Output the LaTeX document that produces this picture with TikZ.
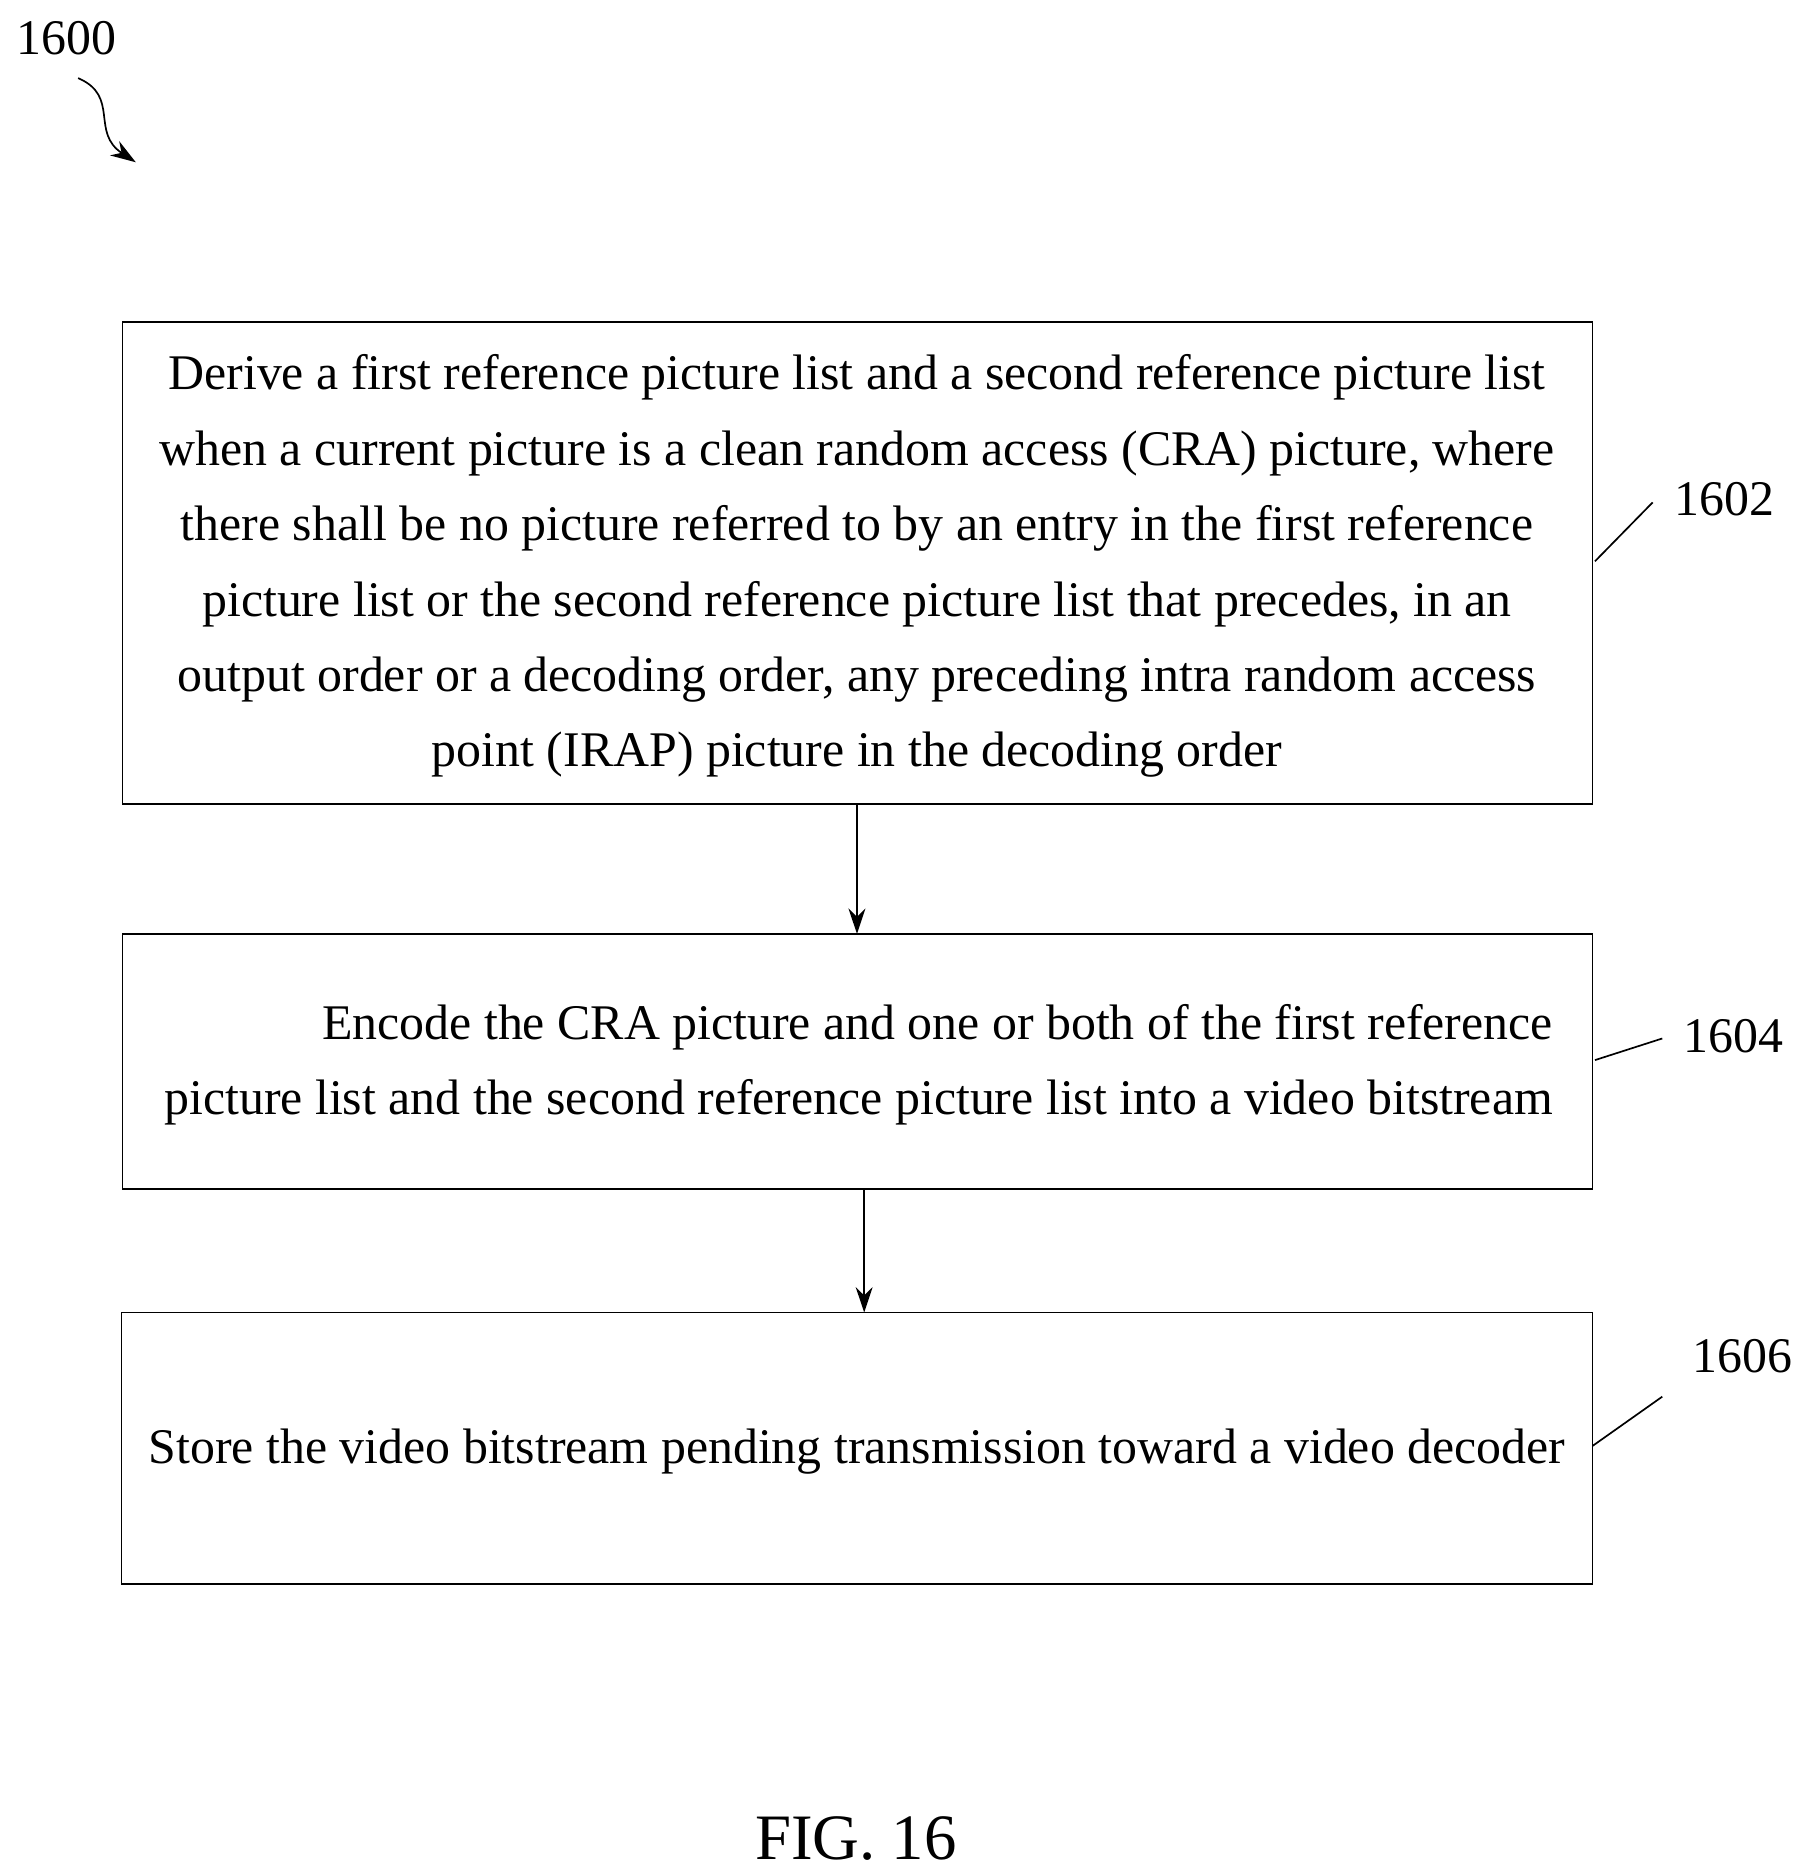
\documentclass[tikz,border=0pt]{standalone}
\usepackage{fontspec}
\setmainfont{Liberation Serif}
\usetikzlibrary{arrows.meta}
\begin{document}
\begin{tikzpicture}[x=0.03cm,y=-0.03cm,
  box/.style={draw,line width=1.2pt,inner sep=0pt},
  txt/.style={font=\fontsize{35.4}{53.6}\selectfont},
  arr/.style={-{Stealth[length=18pt,width=12pt]},line width=1.2pt},
  lead/.style={line width=1.2pt}]
\useasboundingbox (0,0) rectangle (1500,1560);
\node[box,minimum width=1223*0.03cm,minimum height=401*0.03cm] (b1) at (713.5,468.5) {};
\node[txt,align=center] (t1) at (713,471) {Derive a first reference picture list and a second reference picture list\\when a current picture is a clean random access (CRA) picture, where\\there shall be no picture referred to by an entry in the first reference\\picture list or the second reference picture list that precedes, in an\\output order or a decoding order, any preceding intra random access\\point (IRAP) picture in the decoding order};
\node[box,minimum width=1223*0.03cm,minimum height=212*0.03cm] (b2) at (713.5,883) {};
\node[txt,align=right,anchor=east] (t2) at (1296,886) {Encode the CRA picture and one or both of the first reference\\picture list and the second reference picture list into a video bitstream};
\node[box,minimum width=1224*0.03cm,minimum height=226*0.03cm] (b3) at (713,1205) {};
\node[txt] (t3) at (713,1208) {Store the video bitstream pending transmission toward a video decoder};
\draw[arr] (713,669) -- (713,777);
\draw[arr] (719,989) -- (719,1092);
\node[txt] (l2) at (1435,415) {1602};
\node[txt] (l4) at (1442,862) {1604};
\node[txt] (l6) at (1450,1128) {1606};
\coordinate (c2a) at (1327,467); \coordinate (c2b) at (1375,418);
\coordinate (c4a) at (1327,882); \coordinate (c4b) at (1383,864);
\coordinate (c6a) at (1325,1203); \coordinate (c6b) at (1383,1162);
\draw[lead] (c2a) -- (c2b);
\draw[lead] (c4a) -- (c4b);
\draw[lead] (c6a) -- (c6b);
\node[txt] (l0) at (55,32) {1600};
\coordinate (s0) at (65,65); \coordinate (s1) at (113,135);
\draw[arr] (s0) .. controls (100,80) and (75,110) .. (s1);
\node[font=\fontsize{46}{55}\selectfont] (fig) at (712,1530) {FIG. 16};
\end{tikzpicture}
\end{document}
